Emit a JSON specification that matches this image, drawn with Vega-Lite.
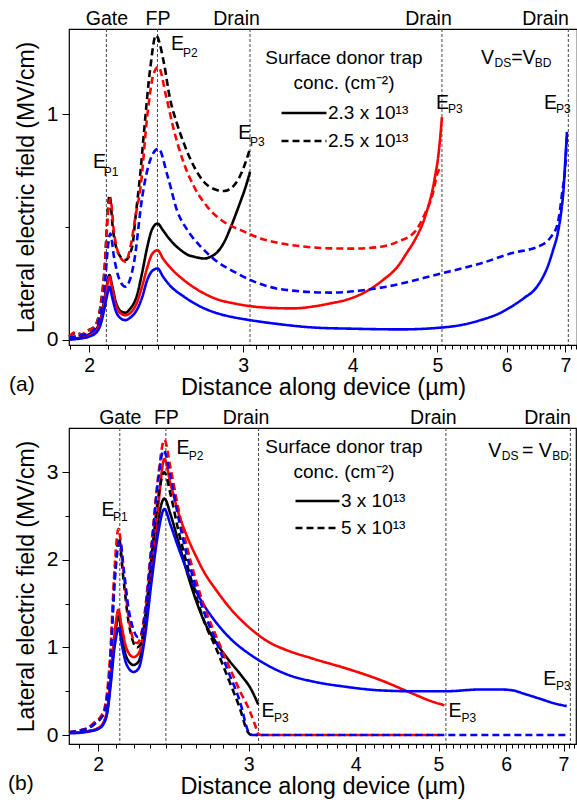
{
  "$schema": "https://vega.github.io/schema/vega-lite/v6.json",
  "background": "white",
  "padding": {"left": 7, "top": 7, "right": 0, "bottom": 0},
  "config": {
    "font": "Liberation Sans",
    "view": {"stroke": "black", "strokeWidth": 1.2},
    "axis": {"labelFont": "Liberation Sans", "titleFont": "Liberation Sans", "labelColor": "black", "titleColor": "black", "tickColor": "black", "grid": false, "domain": false, "titleFontWeight": "normal"},
    "title": {"font": "Liberation Sans", "fontWeight": "normal", "fontSize": 21, "color": "black"},
    "legend": {"labelFont": "Liberation Sans", "titleFont": "Liberation Sans", "labelColor": "black", "titleColor": "black"}
  },
  "datasets": {
    "linesA": [{"x": 2.093}, {"x": 2.394}, {"x": 3.054}, {"x": 5.06}, {"x": 7.055}],
    "linesB": [{"x": 2.12}, {"x": 2.40}, {"x": 3.08}, {"x": 5.10}, {"x": 7.13}],
    "annA": [
      {"x": 2.02, "y": 0.761, "t": "E", "k": "m"},
      {"x": 2.078, "y": 0.726, "t": "P1", "k": "s"},
      {"x": 2.48, "y": 1.283, "t": "E", "k": "m"},
      {"x": 2.56, "y": 1.252, "t": "P2", "k": "s"},
      {"x": 2.96, "y": 0.892, "t": "E", "k": "m"},
      {"x": 3.053, "y": 0.858, "t": "P3", "k": "s"},
      {"x": 4.98, "y": 1.025, "t": "E", "k": "m"},
      {"x": 5.14, "y": 1.004, "t": "P3", "k": "s"},
      {"x": 6.62, "y": 1.025, "t": "E", "k": "m"},
      {"x": 6.83, "y": 1.004, "t": "P3", "k": "s"},
      {"x": 5.606, "y": 1.224, "t": "V", "k": "m"},
      {"x": 5.81, "y": 1.208, "t": "DS", "k": "s"},
      {"x": 6.07, "y": 1.224, "t": "=V", "k": "m"},
      {"x": 6.46, "y": 1.208, "t": "BD", "k": "s"}
    ],
    "annB": [
      {"x": 2.018, "y": 2.506, "t": "E", "k": "m"},
      {"x": 2.082, "y": 2.44, "t": "P1", "k": "s"},
      {"x": 2.47, "y": 3.207, "t": "E", "k": "m"},
      {"x": 2.553, "y": 3.14, "t": "P2", "k": "s"},
      {"x": 3.105, "y": 0.208, "t": "E", "k": "m"},
      {"x": 3.21, "y": 0.15, "t": "P3", "k": "s"},
      {"x": 5.135, "y": 0.208, "t": "E", "k": "m"},
      {"x": 5.32, "y": 0.15, "t": "P3", "k": "s"},
      {"x": 6.63, "y": 0.57, "t": "E", "k": "m"},
      {"x": 6.86, "y": 0.51, "t": "P3", "k": "s"},
      {"x": 5.716, "y": 3.17, "t": "V", "k": "m"},
      {"x": 5.927, "y": 3.135, "t": "DS", "k": "s"},
      {"x": 6.26, "y": 3.17, "t": "= V", "k": "m"},
      {"x": 6.79, "y": 3.135, "t": "BD", "k": "s"}
    ],
    "curvesA": [
      {"s":"black","c":"2.3 x 10¹³","x":1.897,"y":0.005},{"s":"black","c":"2.3 x 10¹³","x":1.95,"y":0.01},{"s":"black","c":"2.3 x 10¹³","x":2.0,"y":0.025},{"s":"black","c":"2.3 x 10¹³","x":2.04,"y":0.05},{"s":"black","c":"2.3 x 10¹³","x":2.06,"y":0.09},{"s":"black","c":"2.3 x 10¹³","x":2.08,"y":0.17},{"s":"black","c":"2.3 x 10¹³","x":2.095,"y":0.24},{"s":"black","c":"2.3 x 10¹³","x":2.11,"y":0.288},{"s":"black","c":"2.3 x 10¹³","x":2.125,"y":0.24},{"s":"black","c":"2.3 x 10¹³","x":2.145,"y":0.17},{"s":"black","c":"2.3 x 10¹³","x":2.17,"y":0.13},{"s":"black","c":"2.3 x 10¹³","x":2.2,"y":0.121},{"s":"black","c":"2.3 x 10¹³","x":2.23,"y":0.14},{"s":"black","c":"2.3 x 10¹³","x":2.265,"y":0.19},{"s":"black","c":"2.3 x 10¹³","x":2.3,"y":0.3},{"s":"black","c":"2.3 x 10¹³","x":2.33,"y":0.41},{"s":"black","c":"2.3 x 10¹³","x":2.36,"y":0.49},{"s":"black","c":"2.3 x 10¹³","x":2.394,"y":0.516},{"s":"black","c":"2.3 x 10¹³","x":2.43,"y":0.485},{"s":"black","c":"2.3 x 10¹³","x":2.46,"y":0.457},{"s":"black","c":"2.3 x 10¹³","x":2.5,"y":0.425},{"s":"black","c":"2.3 x 10¹³","x":2.546,"y":0.398},{"s":"black","c":"2.3 x 10¹³","x":2.59,"y":0.378},{"s":"black","c":"2.3 x 10¹³","x":2.637,"y":0.369},{"s":"black","c":"2.3 x 10¹³","x":2.706,"y":0.361},{"s":"black","c":"2.3 x 10¹³","x":2.75,"y":0.368},{"s":"black","c":"2.3 x 10¹³","x":2.803,"y":0.39},{"s":"black","c":"2.3 x 10¹³","x":2.85,"y":0.43},{"s":"black","c":"2.3 x 10¹³","x":2.904,"y":0.501},{"s":"black","c":"2.3 x 10¹³","x":2.95,"y":0.57},{"s":"black","c":"2.3 x 10¹³","x":2.982,"y":0.619},{"s":"black","c":"2.3 x 10¹³","x":3.02,"y":0.68},{"s":"black","c":"2.3 x 10¹³","x":3.054,"y":0.745},
      {"s":"black","c":"2.5 x 10¹³","x":1.897,"y":0.015},{"s":"black","c":"2.5 x 10¹³","x":1.93,"y":0.03},{"s":"black","c":"2.5 x 10¹³","x":1.96,"y":0.02},{"s":"black","c":"2.5 x 10¹³","x":1.99,"y":0.04},{"s":"black","c":"2.5 x 10¹³","x":2.03,"y":0.06},{"s":"black","c":"2.5 x 10¹³","x":2.06,"y":0.147},{"s":"black","c":"2.5 x 10¹³","x":2.085,"y":0.34},{"s":"black","c":"2.5 x 10¹³","x":2.1,"y":0.56},{"s":"black","c":"2.5 x 10¹³","x":2.11,"y":0.642},{"s":"black","c":"2.5 x 10¹³","x":2.13,"y":0.487},{"s":"black","c":"2.5 x 10¹³","x":2.16,"y":0.384},{"s":"black","c":"2.5 x 10¹³","x":2.2,"y":0.354},{"s":"black","c":"2.5 x 10¹³","x":2.24,"y":0.413},{"s":"black","c":"2.5 x 10¹³","x":2.26,"y":0.546},{"s":"black","c":"2.5 x 10¹³","x":2.29,"y":0.75},{"s":"black","c":"2.5 x 10¹³","x":2.31,"y":0.915},{"s":"black","c":"2.5 x 10¹³","x":2.35,"y":1.21},{"s":"black","c":"2.5 x 10¹³","x":2.384,"y":1.35},{"s":"black","c":"2.5 x 10¹³","x":2.436,"y":1.224},{"s":"black","c":"2.5 x 10¹³","x":2.472,"y":1.077},{"s":"black","c":"2.5 x 10¹³","x":2.52,"y":0.959},{"s":"black","c":"2.5 x 10¹³","x":2.567,"y":0.87},{"s":"black","c":"2.5 x 10¹³","x":2.637,"y":0.767},{"s":"black","c":"2.5 x 10¹³","x":2.706,"y":0.70},{"s":"black","c":"2.5 x 10¹³","x":2.803,"y":0.664},{"s":"black","c":"2.5 x 10¹³","x":2.852,"y":0.66},{"s":"black","c":"2.5 x 10¹³","x":2.93,"y":0.686},{"s":"black","c":"2.5 x 10¹³","x":2.995,"y":0.752},{"s":"black","c":"2.5 x 10¹³","x":3.054,"y":0.848},
      {"s":"red","c":"2.3 x 10¹³","x":1.897,"y":0.003},{"s":"red","c":"2.3 x 10¹³","x":1.95,"y":0.008},{"s":"red","c":"2.3 x 10¹³","x":2.0,"y":0.02},{"s":"red","c":"2.3 x 10¹³","x":2.04,"y":0.045},{"s":"red","c":"2.3 x 10¹³","x":2.06,"y":0.08},{"s":"red","c":"2.3 x 10¹³","x":2.08,"y":0.16},{"s":"red","c":"2.3 x 10¹³","x":2.095,"y":0.23},{"s":"red","c":"2.3 x 10¹³","x":2.11,"y":0.28},{"s":"red","c":"2.3 x 10¹³","x":2.125,"y":0.23},{"s":"red","c":"2.3 x 10¹³","x":2.145,"y":0.16},{"s":"red","c":"2.3 x 10¹³","x":2.17,"y":0.12},{"s":"red","c":"2.3 x 10¹³","x":2.2,"y":0.11},{"s":"red","c":"2.3 x 10¹³","x":2.23,"y":0.12},{"s":"red","c":"2.3 x 10¹³","x":2.265,"y":0.16},{"s":"red","c":"2.3 x 10¹³","x":2.3,"y":0.24},{"s":"red","c":"2.3 x 10¹³","x":2.33,"y":0.32},{"s":"red","c":"2.3 x 10¹³","x":2.36,"y":0.38},{"s":"red","c":"2.3 x 10¹³","x":2.394,"y":0.398},{"s":"red","c":"2.3 x 10¹³","x":2.43,"y":0.36},{"s":"red","c":"2.3 x 10¹³","x":2.472,"y":0.324},{"s":"red","c":"2.3 x 10¹³","x":2.567,"y":0.265},{"s":"red","c":"2.3 x 10¹³","x":2.684,"y":0.214},{"s":"red","c":"2.3 x 10¹³","x":2.803,"y":0.18},{"s":"red","c":"2.3 x 10¹³","x":2.93,"y":0.162},{"s":"red","c":"2.3 x 10¹³","x":3.054,"y":0.15},{"s":"red","c":"2.3 x 10¹³","x":3.2,"y":0.143},{"s":"red","c":"2.3 x 10¹³","x":3.42,"y":0.14},{"s":"red","c":"2.3 x 10¹³","x":3.6,"y":0.148},{"s":"red","c":"2.3 x 10¹³","x":3.77,"y":0.162},{"s":"red","c":"2.3 x 10¹³","x":3.95,"y":0.18},{"s":"red","c":"2.3 x 10¹³","x":4.1,"y":0.205},{"s":"red","c":"2.3 x 10¹³","x":4.33,"y":0.265},{"s":"red","c":"2.3 x 10¹³","x":4.5,"y":0.324},{"s":"red","c":"2.3 x 10¹³","x":4.62,"y":0.39},{"s":"red","c":"2.3 x 10¹³","x":4.71,"y":0.442},{"s":"red","c":"2.3 x 10¹³","x":4.84,"y":0.546},{"s":"red","c":"2.3 x 10¹³","x":4.96,"y":0.708},{"s":"red","c":"2.3 x 10¹³","x":5.02,"y":0.84},{"s":"red","c":"2.3 x 10¹³","x":5.06,"y":0.988},
      {"s":"red","c":"2.5 x 10¹³","x":1.897,"y":0.015},{"s":"red","c":"2.5 x 10¹³","x":1.93,"y":0.035},{"s":"red","c":"2.5 x 10¹³","x":1.96,"y":0.025},{"s":"red","c":"2.5 x 10¹³","x":1.99,"y":0.04},{"s":"red","c":"2.5 x 10¹³","x":2.03,"y":0.06},{"s":"red","c":"2.5 x 10¹³","x":2.06,"y":0.14},{"s":"red","c":"2.5 x 10¹³","x":2.085,"y":0.33},{"s":"red","c":"2.5 x 10¹³","x":2.1,"y":0.54},{"s":"red","c":"2.5 x 10¹³","x":2.115,"y":0.627},{"s":"red","c":"2.5 x 10¹³","x":2.135,"y":0.48},{"s":"red","c":"2.5 x 10¹³","x":2.165,"y":0.375},{"s":"red","c":"2.5 x 10¹³","x":2.2,"y":0.347},{"s":"red","c":"2.5 x 10¹³","x":2.23,"y":0.413},{"s":"red","c":"2.5 x 10¹³","x":2.26,"y":0.55},{"s":"red","c":"2.5 x 10¹³","x":2.29,"y":0.678},{"s":"red","c":"2.5 x 10¹³","x":2.33,"y":0.988},{"s":"red","c":"2.5 x 10¹³","x":2.37,"y":1.18},{"s":"red","c":"2.5 x 10¹³","x":2.40,"y":1.21},{"s":"red","c":"2.5 x 10¹³","x":2.45,"y":1.077},{"s":"red","c":"2.5 x 10¹³","x":2.50,"y":0.929},{"s":"red","c":"2.5 x 10¹³","x":2.567,"y":0.782},{"s":"red","c":"2.5 x 10¹³","x":2.637,"y":0.678},{"s":"red","c":"2.5 x 10¹³","x":2.73,"y":0.59},{"s":"red","c":"2.5 x 10¹³","x":2.852,"y":0.523},{"s":"red","c":"2.5 x 10¹³","x":2.98,"y":0.487},{"s":"red","c":"2.5 x 10¹³","x":3.14,"y":0.45},{"s":"red","c":"2.5 x 10¹³","x":3.31,"y":0.428},{"s":"red","c":"2.5 x 10¹³","x":3.5,"y":0.415},{"s":"red","c":"2.5 x 10¹³","x":3.77,"y":0.406},{"s":"red","c":"2.5 x 10¹³","x":4.0,"y":0.405},{"s":"red","c":"2.5 x 10¹³","x":4.31,"y":0.413},{"s":"red","c":"2.5 x 10¹³","x":4.5,"y":0.435},{"s":"red","c":"2.5 x 10¹³","x":4.71,"y":0.479},{"s":"red","c":"2.5 x 10¹³","x":4.84,"y":0.56},{"s":"red","c":"2.5 x 10¹³","x":4.94,"y":0.649},{"s":"red","c":"2.5 x 10¹³","x":5.0,"y":0.738},{"s":"red","c":"2.5 x 10¹³","x":5.06,"y":0.767},
      {"s":"blue","c":"2.3 x 10¹³","x":1.897,"y":0.002},{"s":"blue","c":"2.3 x 10¹³","x":1.95,"y":0.006},{"s":"blue","c":"2.3 x 10¹³","x":2.0,"y":0.015},{"s":"blue","c":"2.3 x 10¹³","x":2.04,"y":0.035},{"s":"blue","c":"2.3 x 10¹³","x":2.06,"y":0.065},{"s":"blue","c":"2.3 x 10¹³","x":2.08,"y":0.13},{"s":"blue","c":"2.3 x 10¹³","x":2.095,"y":0.19},{"s":"blue","c":"2.3 x 10¹³","x":2.11,"y":0.236},{"s":"blue","c":"2.3 x 10¹³","x":2.125,"y":0.19},{"s":"blue","c":"2.3 x 10¹³","x":2.145,"y":0.13},{"s":"blue","c":"2.3 x 10¹³","x":2.17,"y":0.098},{"s":"blue","c":"2.3 x 10¹³","x":2.2,"y":0.088},{"s":"blue","c":"2.3 x 10¹³","x":2.23,"y":0.1},{"s":"blue","c":"2.3 x 10¹³","x":2.265,"y":0.13},{"s":"blue","c":"2.3 x 10¹³","x":2.3,"y":0.19},{"s":"blue","c":"2.3 x 10¹³","x":2.33,"y":0.265},{"s":"blue","c":"2.3 x 10¹³","x":2.36,"y":0.305},{"s":"blue","c":"2.3 x 10¹³","x":2.394,"y":0.317},{"s":"blue","c":"2.3 x 10¹³","x":2.43,"y":0.28},{"s":"blue","c":"2.3 x 10¹³","x":2.472,"y":0.243},{"s":"blue","c":"2.3 x 10¹³","x":2.567,"y":0.192},{"s":"blue","c":"2.3 x 10¹³","x":2.684,"y":0.147},{"s":"blue","c":"2.3 x 10¹³","x":2.803,"y":0.118},{"s":"blue","c":"2.3 x 10¹³","x":2.93,"y":0.1},{"s":"blue","c":"2.3 x 10¹³","x":3.054,"y":0.088},{"s":"blue","c":"2.3 x 10¹³","x":3.14,"y":0.081},{"s":"blue","c":"2.3 x 10¹³","x":3.3,"y":0.07},{"s":"blue","c":"2.3 x 10¹³","x":3.62,"y":0.055},{"s":"blue","c":"2.3 x 10¹³","x":4.0,"y":0.05},{"s":"blue","c":"2.3 x 10¹³","x":4.54,"y":0.047},{"s":"blue","c":"2.3 x 10¹³","x":5.05,"y":0.055},{"s":"blue","c":"2.3 x 10¹³","x":5.3,"y":0.065},{"s":"blue","c":"2.3 x 10¹³","x":5.6,"y":0.088},{"s":"blue","c":"2.3 x 10¹³","x":5.9,"y":0.12},{"s":"blue","c":"2.3 x 10¹³","x":6.07,"y":0.147},{"s":"blue","c":"2.3 x 10¹³","x":6.3,"y":0.19},{"s":"blue","c":"2.3 x 10¹³","x":6.45,"y":0.221},{"s":"blue","c":"2.3 x 10¹³","x":6.58,"y":0.27},{"s":"blue","c":"2.3 x 10¹³","x":6.68,"y":0.324},{"s":"blue","c":"2.3 x 10¹³","x":6.78,"y":0.4},{"s":"blue","c":"2.3 x 10¹³","x":6.86,"y":0.472},{"s":"blue","c":"2.3 x 10¹³","x":6.92,"y":0.56},{"s":"blue","c":"2.3 x 10¹³","x":6.97,"y":0.678},{"s":"blue","c":"2.3 x 10¹³","x":7.0,"y":0.8},{"s":"blue","c":"2.3 x 10¹³","x":7.03,"y":0.922},
      {"s":"blue","c":"2.5 x 10¹³","x":1.897,"y":0.01},{"s":"blue","c":"2.5 x 10¹³","x":1.95,"y":0.02},{"s":"blue","c":"2.5 x 10¹³","x":2.0,"y":0.03},{"s":"blue","c":"2.5 x 10¹³","x":2.03,"y":0.05},{"s":"blue","c":"2.5 x 10¹³","x":2.06,"y":0.11},{"s":"blue","c":"2.5 x 10¹³","x":2.085,"y":0.25},{"s":"blue","c":"2.5 x 10¹³","x":2.1,"y":0.4},{"s":"blue","c":"2.5 x 10¹³","x":2.115,"y":0.472},{"s":"blue","c":"2.5 x 10¹³","x":2.135,"y":0.37},{"s":"blue","c":"2.5 x 10¹³","x":2.165,"y":0.27},{"s":"blue","c":"2.5 x 10¹³","x":2.2,"y":0.236},{"s":"blue","c":"2.5 x 10¹³","x":2.25,"y":0.34},{"s":"blue","c":"2.5 x 10¹³","x":2.3,"y":0.634},{"s":"blue","c":"2.5 x 10¹³","x":2.35,"y":0.8},{"s":"blue","c":"2.5 x 10¹³","x":2.40,"y":0.848},{"s":"blue","c":"2.5 x 10¹³","x":2.46,"y":0.723},{"s":"blue","c":"2.5 x 10¹³","x":2.52,"y":0.575},{"s":"blue","c":"2.5 x 10¹³","x":2.59,"y":0.487},{"s":"blue","c":"2.5 x 10¹³","x":2.684,"y":0.413},{"s":"blue","c":"2.5 x 10¹³","x":2.803,"y":0.346},{"s":"blue","c":"2.5 x 10¹³","x":2.93,"y":0.302},{"s":"blue","c":"2.5 x 10¹³","x":3.06,"y":0.265},{"s":"blue","c":"2.5 x 10¹³","x":3.14,"y":0.248},{"s":"blue","c":"2.5 x 10¹³","x":3.31,"y":0.225},{"s":"blue","c":"2.5 x 10¹³","x":3.77,"y":0.21},{"s":"blue","c":"2.5 x 10¹³","x":4.31,"y":0.232},{"s":"blue","c":"2.5 x 10¹³","x":5.05,"y":0.295},{"s":"blue","c":"2.5 x 10¹³","x":5.6,"y":0.339},{"s":"blue","c":"2.5 x 10¹³","x":6.07,"y":0.384},{"s":"blue","c":"2.5 x 10¹³","x":6.57,"y":0.42},{"s":"blue","c":"2.5 x 10¹³","x":6.74,"y":0.457},{"s":"blue","c":"2.5 x 10¹³","x":6.86,"y":0.516},{"s":"blue","c":"2.5 x 10¹³","x":6.94,"y":0.649},{"s":"blue","c":"2.5 x 10¹³","x":7.01,"y":0.811},{"s":"blue","c":"2.5 x 10¹³","x":7.03,"y":0.914}
    ],
    "curvesB": [
      {"s":"black","c":"3 x 10¹³","x":1.849,"y":0.025},{"s":"black","c":"3 x 10¹³","x":1.9,"y":0.03},{"s":"black","c":"3 x 10¹³","x":1.95,"y":0.045},{"s":"black","c":"3 x 10¹³","x":2.0,"y":0.075},{"s":"black","c":"3 x 10¹³","x":2.03,"y":0.14},{"s":"black","c":"3 x 10¹³","x":2.05,"y":0.28},{"s":"black","c":"3 x 10¹³","x":2.07,"y":0.65},{"s":"black","c":"3 x 10¹³","x":2.09,"y":1.08},{"s":"black","c":"3 x 10¹³","x":2.115,"y":1.36},{"s":"black","c":"3 x 10¹³","x":2.13,"y":1.15},{"s":"black","c":"3 x 10¹³","x":2.16,"y":0.88},{"s":"black","c":"3 x 10¹³","x":2.2,"y":0.8},{"s":"black","c":"3 x 10¹³","x":2.23,"y":0.84},{"s":"black","c":"3 x 10¹³","x":2.267,"y":1.18},{"s":"black","c":"3 x 10¹³","x":2.309,"y":1.85},{"s":"black","c":"3 x 10¹³","x":2.35,"y":2.45},{"s":"black","c":"3 x 10¹³","x":2.39,"y":2.70},{"s":"black","c":"3 x 10¹³","x":2.43,"y":2.52},{"s":"black","c":"3 x 10¹³","x":2.48,"y":2.22},{"s":"black","c":"3 x 10¹³","x":2.54,"y":1.86},{"s":"black","c":"3 x 10¹³","x":2.6,"y":1.55},{"s":"black","c":"3 x 10¹³","x":2.66,"y":1.3},{"s":"black","c":"3 x 10¹³","x":2.75,"y":1.05},{"s":"black","c":"3 x 10¹³","x":2.84,"y":0.86},{"s":"black","c":"3 x 10¹³","x":2.94,"y":0.68},{"s":"black","c":"3 x 10¹³","x":3.02,"y":0.52},{"s":"black","c":"3 x 10¹³","x":3.077,"y":0.35},
      {"s":"red","c":"3 x 10¹³","x":1.849,"y":0.025},{"s":"red","c":"3 x 10¹³","x":1.9,"y":0.03},{"s":"red","c":"3 x 10¹³","x":1.95,"y":0.045},{"s":"red","c":"3 x 10¹³","x":2.0,"y":0.08},{"s":"red","c":"3 x 10¹³","x":2.03,"y":0.15},{"s":"red","c":"3 x 10¹³","x":2.05,"y":0.3},{"s":"red","c":"3 x 10¹³","x":2.07,"y":0.7},{"s":"red","c":"3 x 10¹³","x":2.09,"y":1.15},{"s":"red","c":"3 x 10¹³","x":2.112,"y":1.43},{"s":"red","c":"3 x 10¹³","x":2.13,"y":1.25},{"s":"red","c":"3 x 10¹³","x":2.16,"y":0.98},{"s":"red","c":"3 x 10¹³","x":2.2,"y":0.89},{"s":"red","c":"3 x 10¹³","x":2.23,"y":0.93},{"s":"red","c":"3 x 10¹³","x":2.267,"y":1.25},{"s":"red","c":"3 x 10¹³","x":2.309,"y":1.95},{"s":"red","c":"3 x 10¹³","x":2.35,"y":2.6},{"s":"red","c":"3 x 10¹³","x":2.39,"y":3.15},{"s":"red","c":"3 x 10¹³","x":2.43,"y":2.87},{"s":"red","c":"3 x 10¹³","x":2.48,"y":2.55},{"s":"red","c":"3 x 10¹³","x":2.54,"y":2.27},{"s":"red","c":"3 x 10¹³","x":2.6,"y":2.05},{"s":"red","c":"3 x 10¹³","x":2.66,"y":1.86},{"s":"red","c":"3 x 10¹³","x":2.75,"y":1.65},{"s":"red","c":"3 x 10¹³","x":2.84,"y":1.47},{"s":"red","c":"3 x 10¹³","x":2.97,"y":1.27},{"s":"red","c":"3 x 10¹³","x":3.08,"y":1.14},{"s":"red","c":"3 x 10¹³","x":3.18,"y":1.05},{"s":"red","c":"3 x 10¹³","x":3.3,"y":0.98},{"s":"red","c":"3 x 10¹³","x":3.57,"y":0.87},{"s":"red","c":"3 x 10¹³","x":3.9,"y":0.76},{"s":"red","c":"3 x 10¹³","x":4.27,"y":0.63},{"s":"red","c":"3 x 10¹³","x":4.67,"y":0.47},{"s":"red","c":"3 x 10¹³","x":4.89,"y":0.39},{"s":"red","c":"3 x 10¹³","x":5.08,"y":0.34},
      {"s":"blue","c":"3 x 10¹³","x":1.849,"y":0.02},{"s":"blue","c":"3 x 10¹³","x":1.9,"y":0.025},{"s":"blue","c":"3 x 10¹³","x":1.95,"y":0.04},{"s":"blue","c":"3 x 10¹³","x":2.0,"y":0.07},{"s":"blue","c":"3 x 10¹³","x":2.03,"y":0.13},{"s":"blue","c":"3 x 10¹³","x":2.05,"y":0.26},{"s":"blue","c":"3 x 10¹³","x":2.07,"y":0.6},{"s":"blue","c":"3 x 10¹³","x":2.09,"y":1.0},{"s":"blue","c":"3 x 10¹³","x":2.115,"y":1.22},{"s":"blue","c":"3 x 10¹³","x":2.13,"y":1.05},{"s":"blue","c":"3 x 10¹³","x":2.16,"y":0.8},{"s":"blue","c":"3 x 10¹³","x":2.2,"y":0.72},{"s":"blue","c":"3 x 10¹³","x":2.23,"y":0.76},{"s":"blue","c":"3 x 10¹³","x":2.267,"y":1.1},{"s":"blue","c":"3 x 10¹³","x":2.309,"y":1.75},{"s":"blue","c":"3 x 10¹³","x":2.35,"y":2.3},{"s":"blue","c":"3 x 10¹³","x":2.39,"y":2.58},{"s":"blue","c":"3 x 10¹³","x":2.43,"y":2.4},{"s":"blue","c":"3 x 10¹³","x":2.48,"y":2.15},{"s":"blue","c":"3 x 10¹³","x":2.54,"y":1.88},{"s":"blue","c":"3 x 10¹³","x":2.6,"y":1.65},{"s":"blue","c":"3 x 10¹³","x":2.66,"y":1.48},{"s":"blue","c":"3 x 10¹³","x":2.75,"y":1.28},{"s":"blue","c":"3 x 10¹³","x":2.87,"y":1.08},{"s":"blue","c":"3 x 10¹³","x":3.0,"y":0.93},{"s":"blue","c":"3 x 10¹³","x":3.15,"y":0.8},{"s":"blue","c":"3 x 10¹³","x":3.35,"y":0.68},{"s":"blue","c":"3 x 10¹³","x":3.57,"y":0.61},{"s":"blue","c":"3 x 10¹³","x":3.9,"y":0.55},{"s":"blue","c":"3 x 10¹³","x":4.27,"y":0.51},{"s":"blue","c":"3 x 10¹³","x":4.67,"y":0.5},{"s":"blue","c":"3 x 10¹³","x":5.11,"y":0.5},{"s":"blue","c":"3 x 10¹³","x":5.6,"y":0.52},{"s":"blue","c":"3 x 10¹³","x":5.9,"y":0.52},{"s":"blue","c":"3 x 10¹³","x":6.1,"y":0.51},{"s":"blue","c":"3 x 10¹³","x":6.3,"y":0.47},{"s":"blue","c":"3 x 10¹³","x":6.54,"y":0.42},{"s":"blue","c":"3 x 10¹³","x":6.84,"y":0.36},{"s":"blue","c":"3 x 10¹³","x":7.06,"y":0.33},
      {"s":"black","c":"5 x 10¹³","x":1.849,"y":0.03},{"s":"black","c":"5 x 10¹³","x":1.9,"y":0.05},{"s":"black","c":"5 x 10¹³","x":1.95,"y":0.08},{"s":"black","c":"5 x 10¹³","x":1.982,"y":0.13},{"s":"black","c":"5 x 10¹³","x":2.01,"y":0.18},{"s":"black","c":"5 x 10¹³","x":2.036,"y":0.28},{"s":"black","c":"5 x 10¹³","x":2.064,"y":0.78},{"s":"black","c":"5 x 10¹³","x":2.091,"y":1.8},{"s":"black","c":"5 x 10¹³","x":2.115,"y":2.25},{"s":"black","c":"5 x 10¹³","x":2.14,"y":1.8},{"s":"black","c":"5 x 10¹³","x":2.17,"y":1.3},{"s":"black","c":"5 x 10¹³","x":2.2,"y":1.05},{"s":"black","c":"5 x 10¹³","x":2.22,"y":1.0},{"s":"black","c":"5 x 10¹³","x":2.245,"y":1.05},{"s":"black","c":"5 x 10¹³","x":2.27,"y":1.35},{"s":"black","c":"5 x 10¹³","x":2.31,"y":2.05},{"s":"black","c":"5 x 10¹³","x":2.35,"y":2.7},{"s":"black","c":"5 x 10¹³","x":2.39,"y":3.0},{"s":"black","c":"5 x 10¹³","x":2.43,"y":2.75},{"s":"black","c":"5 x 10¹³","x":2.48,"y":2.35},{"s":"black","c":"5 x 10¹³","x":2.54,"y":1.95},{"s":"black","c":"5 x 10¹³","x":2.6,"y":1.6},{"s":"black","c":"5 x 10¹³","x":2.66,"y":1.3},{"s":"black","c":"5 x 10¹³","x":2.75,"y":0.98},{"s":"black","c":"5 x 10¹³","x":2.84,"y":0.64},{"s":"black","c":"5 x 10¹³","x":2.93,"y":0.3},{"s":"black","c":"5 x 10¹³","x":2.99,"y":0.04},{"s":"black","c":"5 x 10¹³","x":3.02,"y":0.0},{"s":"black","c":"5 x 10¹³","x":3.077,"y":0.0},
      {"s":"red","c":"5 x 10¹³","x":1.849,"y":0.03},{"s":"red","c":"5 x 10¹³","x":1.9,"y":0.05},{"s":"red","c":"5 x 10¹³","x":1.95,"y":0.09},{"s":"red","c":"5 x 10¹³","x":1.982,"y":0.15},{"s":"red","c":"5 x 10¹³","x":2.01,"y":0.2},{"s":"red","c":"5 x 10¹³","x":2.036,"y":0.32},{"s":"red","c":"5 x 10¹³","x":2.064,"y":0.85},{"s":"red","c":"5 x 10¹³","x":2.091,"y":1.92},{"s":"red","c":"5 x 10¹³","x":2.112,"y":2.355},{"s":"red","c":"5 x 10¹³","x":2.139,"y":1.92},{"s":"red","c":"5 x 10¹³","x":2.168,"y":1.39},{"s":"red","c":"5 x 10¹³","x":2.197,"y":1.1},{"s":"red","c":"5 x 10¹³","x":2.22,"y":1.05},{"s":"red","c":"5 x 10¹³","x":2.24,"y":1.1},{"s":"red","c":"5 x 10¹³","x":2.267,"y":1.4},{"s":"red","c":"5 x 10¹³","x":2.309,"y":2.18},{"s":"red","c":"5 x 10¹³","x":2.35,"y":2.94},{"s":"red","c":"5 x 10¹³","x":2.39,"y":3.37},{"s":"red","c":"5 x 10¹³","x":2.43,"y":3.05},{"s":"red","c":"5 x 10¹³","x":2.48,"y":2.6},{"s":"red","c":"5 x 10¹³","x":2.54,"y":2.15},{"s":"red","c":"5 x 10¹³","x":2.6,"y":1.78},{"s":"red","c":"5 x 10¹³","x":2.66,"y":1.47},{"s":"red","c":"5 x 10¹³","x":2.75,"y":1.12},{"s":"red","c":"5 x 10¹³","x":2.84,"y":0.8},{"s":"red","c":"5 x 10¹³","x":2.93,"y":0.5},{"s":"red","c":"5 x 10¹³","x":3.0,"y":0.3},{"s":"red","c":"5 x 10¹³","x":3.05,"y":0.12},{"s":"red","c":"5 x 10¹³","x":3.08,"y":0.01},{"s":"red","c":"5 x 10¹³","x":3.1,"y":0.0},{"s":"red","c":"5 x 10¹³","x":4.0,"y":0.0},{"s":"red","c":"5 x 10¹³","x":5.06,"y":0.0},
      {"s":"blue","c":"5 x 10¹³","x":1.849,"y":0.03},{"s":"blue","c":"5 x 10¹³","x":1.9,"y":0.05},{"s":"blue","c":"5 x 10¹³","x":1.95,"y":0.08},{"s":"blue","c":"5 x 10¹³","x":1.982,"y":0.13},{"s":"blue","c":"5 x 10¹³","x":2.01,"y":0.18},{"s":"blue","c":"5 x 10¹³","x":2.036,"y":0.28},{"s":"blue","c":"5 x 10¹³","x":2.064,"y":0.75},{"s":"blue","c":"5 x 10¹³","x":2.091,"y":1.75},{"s":"blue","c":"5 x 10¹³","x":2.12,"y":2.22},{"s":"blue","c":"5 x 10¹³","x":2.145,"y":1.85},{"s":"blue","c":"5 x 10¹³","x":2.17,"y":1.45},{"s":"blue","c":"5 x 10¹³","x":2.2,"y":1.2},{"s":"blue","c":"5 x 10¹³","x":2.225,"y":1.12},{"s":"blue","c":"5 x 10¹³","x":2.245,"y":1.15},{"s":"blue","c":"5 x 10¹³","x":2.27,"y":1.4},{"s":"blue","c":"5 x 10¹³","x":2.31,"y":2.15},{"s":"blue","c":"5 x 10¹³","x":2.35,"y":2.9},{"s":"blue","c":"5 x 10¹³","x":2.385,"y":3.25},{"s":"blue","c":"5 x 10¹³","x":2.43,"y":2.95},{"s":"blue","c":"5 x 10¹³","x":2.48,"y":2.5},{"s":"blue","c":"5 x 10¹³","x":2.54,"y":2.05},{"s":"blue","c":"5 x 10¹³","x":2.6,"y":1.7},{"s":"blue","c":"5 x 10¹³","x":2.66,"y":1.4},{"s":"blue","c":"5 x 10¹³","x":2.75,"y":1.06},{"s":"blue","c":"5 x 10¹³","x":2.84,"y":0.72},{"s":"blue","c":"5 x 10¹³","x":2.93,"y":0.38},{"s":"blue","c":"5 x 10¹³","x":3.0,"y":0.03},{"s":"blue","c":"5 x 10¹³","x":3.03,"y":0.0},{"s":"blue","c":"5 x 10¹³","x":4.0,"y":0.0},{"s":"blue","c":"5 x 10¹³","x":5.0,"y":0.0},{"s":"blue","c":"5 x 10¹³","x":6.0,"y":0.0},{"s":"blue","c":"5 x 10¹³","x":7.06,"y":0.0}
    ]
  },
  "resolve": {"scale": {"strokeDash": "independent"}, "legend": {"strokeDash": "independent"}},
  "spacing": 6,
  "vconcat": [
    {
      "width": 508,
      "height": 316,
      "title": {"text": "(a)", "orient": "bottom", "anchor": "start", "frame": "group", "dx": -60, "dy": -25, "offset": 0},
      "resolve": {"axis": {"x": "independent"}},
      "layer": [
        {
          "data": {"name": "linesA"},
          "mark": {"type": "rule", "strokeDash": [3, 2], "strokeWidth": 1, "color": "#444444"},
          "encoding": {
            "x": {"field": "x", "type": "quantitative", "scale": {"type": "log", "domain": [1.897, 7.218], "nice": false},
              "axis": {"orient": "top", "title": null, "values": [2.093, 2.394, 3.054, 5.06, 7.055], "labelExpr": "datum.value < 2.2 ? 'Gate' : datum.value < 2.6 ? 'FP' : 'Drain'", "ticks": false, "domain": false, "labelFontSize": 19.5, "labelPadding": 1, "labelFlush": 14, "labelOverlap": false, "labelBound": false, "labelOffset": {"condition": {"test": "datum.value > 2.6 && datum.value < 6", "value": -14}, "value": 0}}}
          }
        },
        {
          "data": {"name": "curvesA"},
          "mark": {"type": "line", "strokeWidth": 2.6, "interpolate": "monotone"},
          "encoding": {
            "x": {"field": "x", "type": "quantitative", "scale": {"type": "log", "domain": [1.897, 7.218], "nice": false},
              "axis": {"orient": "bottom", "title": "Distance along device (µm)", "titleFontSize": 23.5, "titlePadding": 1, "values": [1.9,2,2.1,2.2,2.3,2.4,2.5,2.6,2.7,2.8,2.9,3,3.1,3.2,3.3,3.4,3.5,3.6,3.7,3.8,3.9,4,4.1,4.2,4.3,4.4,4.5,4.6,4.7,4.8,4.9,5,5.1,5.2,5.3,5.4,5.5,5.6,5.7,5.8,5.9,6,6.1,6.2,6.3,6.4,6.5,6.6,6.7,6.8,6.9,7,7.1,7.2], "labelExpr": "datum.value % 1 === 0 ? format(datum.value, 'd') : ''", "labelFontSize": 19.5, "labelPadding": 4, "labelOverlap": false, "labelBound": false, "labelFlush": false, "tickSize": {"condition": {"test": "datum.value % 1 === 0", "value": 7}, "value": 4}}},
            "y": {"field": "y", "type": "quantitative", "scale": {"domain": [-0.0222, 1.378], "nice": false, "zero": false},
              "axis": {"title": "Lateral electric field (MV/cm)", "titleFontSize": 23, "titlePadding": 8, "values": [0, 0.5, 1], "labelExpr": "datum.value % 1 === 0 ? format(datum.value, 'd') : ''", "labelFontSize": 21, "labelPadding": 4, "tickSize": {"condition": {"test": "datum.value % 1 === 0", "value": 7}, "value": 4}}},
            "color": {"field": "s", "type": "nominal", "scale": {"domain": ["black", "red", "blue"], "range": ["#000000", "#ff0000", "#0000ff"]}, "legend": null},
            "strokeDash": {"field": "c", "type": "nominal", "scale": {"domain": ["2.3 x 10¹³", "2.5 x 10¹³"], "range": [[1, 0], [7, 4]]},
              "legend": {"orient": "none", "legendX": 196, "legendY": 20, "title": ["Surface donor trap", "conc. (cm⁻²)"], "titleFontSize": 19, "titleFontWeight": "normal", "titleAnchor": "middle", "titleAlign": "center", "titleLineHeight": 25, "titlePadding": 9, "labelFontSize": 19, "symbolType": "stroke", "symbolSize": 2025, "symbolStrokeWidth": 2.6, "symbolStrokeColor": "black", "symbolOffset": 0, "labelOffset": 0, "rowPadding": 6, "clipHeight": 22, "padding": 0}}
          }
        },
        {
          "data": {"name": "annA"},
          "transform": [{"filter": "datum.k === 'm'"}],
          "mark": {"type": "text", "align": "left", "baseline": "alphabetic", "fontSize": 19.5, "color": "black"},
          "encoding": {
            "x": {"field": "x", "type": "quantitative", "axis": null},
            "y": {"field": "y", "type": "quantitative"},
            "text": {"field": "t"}
          }
        },
        {
          "data": {"name": "annA"},
          "transform": [{"filter": "datum.k === 's'"}],
          "mark": {"type": "text", "align": "left", "baseline": "alphabetic", "fontSize": 12, "color": "black"},
          "encoding": {
            "x": {"field": "x", "type": "quantitative", "axis": null},
            "y": {"field": "y", "type": "quantitative"},
            "text": {"field": "t"}
          }
        }
      ]
    },
    {
      "width": 507,
      "height": 316,
      "title": {"text": "(b)", "orient": "bottom", "anchor": "start", "frame": "group", "dx": -61, "dy": -25, "offset": 0},
      "resolve": {"axis": {"x": "independent"}},
      "layer": [
        {
          "data": {"name": "linesB"},
          "mark": {"type": "rule", "strokeDash": [3, 2], "strokeWidth": 1, "color": "#444444"},
          "encoding": {
            "x": {"field": "x", "type": "quantitative", "scale": {"type": "log", "domain": [1.849, 7.239], "nice": false},
              "axis": {"orient": "top", "title": null, "values": [2.12, 2.40, 3.08, 5.10, 7.13], "labelExpr": "datum.value < 2.2 ? 'Gate' : datum.value < 2.6 ? 'FP' : 'Drain'", "ticks": false, "domain": false, "labelFontSize": 19.5, "labelPadding": 1, "labelFlush": 14, "labelOverlap": false, "labelBound": false, "labelOffset": {"condition": {"test": "datum.value > 2.6 && datum.value < 6", "value": -13}, "value": 0}}}
          }
        },
        {
          "data": {"name": "curvesB"},
          "mark": {"type": "line", "strokeWidth": 2.6, "interpolate": "monotone"},
          "encoding": {
            "x": {"field": "x", "type": "quantitative", "scale": {"type": "log", "domain": [1.849, 7.239], "nice": false},
              "axis": {"orient": "bottom", "title": "Distance along device (µm)", "titleFontSize": 23.5, "titlePadding": 1, "values": [1.9,2,2.1,2.2,2.3,2.4,2.5,2.6,2.7,2.8,2.9,3,3.1,3.2,3.3,3.4,3.5,3.6,3.7,3.8,3.9,4,4.1,4.2,4.3,4.4,4.5,4.6,4.7,4.8,4.9,5,5.1,5.2,5.3,5.4,5.5,5.6,5.7,5.8,5.9,6,6.1,6.2,6.3,6.4,6.5,6.6,6.7,6.8,6.9,7,7.1,7.2], "labelExpr": "datum.value % 1 === 0 ? format(datum.value, 'd') : ''", "labelFontSize": 19.5, "labelPadding": 4, "labelOverlap": false, "labelBound": false, "labelFlush": false, "tickSize": {"condition": {"test": "datum.value % 1 === 0", "value": 7}, "value": 4}}},
            "y": {"field": "y", "type": "quantitative", "scale": {"domain": [-0.1025, 3.505], "nice": false, "zero": false},
              "axis": {"title": "Lateral electric field (MV/cm)", "titleFontSize": 23, "titlePadding": 8, "values": [0, 0.5, 1, 1.5, 2, 2.5, 3], "labelExpr": "datum.value % 1 === 0 ? format(datum.value, 'd') : ''", "labelFontSize": 21, "labelPadding": 4, "tickSize": {"condition": {"test": "datum.value % 1 === 0", "value": 7}, "value": 4}}},
            "color": {"field": "s", "type": "nominal", "scale": {"domain": ["black", "red", "blue"], "range": ["#000000", "#ff0000", "#0000ff"]}, "legend": null},
            "strokeDash": {"field": "c", "type": "nominal", "scale": {"domain": ["3 x 10¹³", "5 x 10¹³"], "range": [[1, 0], [7, 4]]},
              "legend": {"orient": "none", "legendX": 196, "legendY": 10, "title": ["Surface donor trap", "conc. (cm⁻²)"], "titleFontSize": 19, "titleFontWeight": "normal", "titleAnchor": "middle", "titleAlign": "center", "titleLineHeight": 25, "titlePadding": 8, "labelFontSize": 19, "symbolType": "stroke", "symbolSize": 1936, "symbolStrokeWidth": 2.6, "symbolStrokeColor": "black", "symbolOffset": 12, "labelOffset": 0, "rowPadding": 5, "clipHeight": 22, "padding": 0}}
          }
        },
        {
          "data": {"name": "annB"},
          "transform": [{"filter": "datum.k === 'm'"}],
          "mark": {"type": "text", "align": "left", "baseline": "alphabetic", "fontSize": 19.5, "color": "black"},
          "encoding": {
            "x": {"field": "x", "type": "quantitative", "axis": null},
            "y": {"field": "y", "type": "quantitative"},
            "text": {"field": "t"}
          }
        },
        {
          "data": {"name": "annB"},
          "transform": [{"filter": "datum.k === 's'"}],
          "mark": {"type": "text", "align": "left", "baseline": "alphabetic", "fontSize": 12, "color": "black"},
          "encoding": {
            "x": {"field": "x", "type": "quantitative", "axis": null},
            "y": {"field": "y", "type": "quantitative"},
            "text": {"field": "t"}
          }
        }
      ]
    }
  ]
}
